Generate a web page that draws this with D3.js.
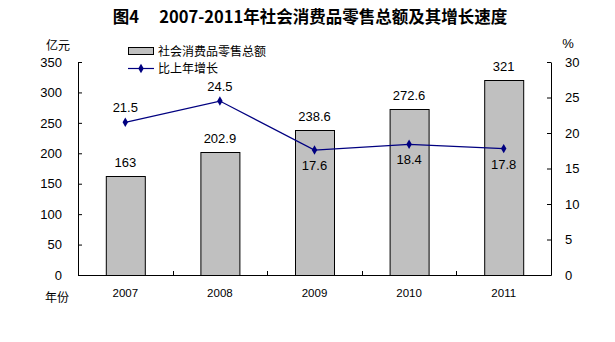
<!DOCTYPE html>
<html>
<head>
<meta charset="utf-8">
<script src="https://cdn.jsdelivr.net/npm/d3@7/dist/d3.min.js"></script>
<style>
  html, body { margin: 0; padding: 0; background: #fff; }
  svg { display: block; }
  text { font-family: "Liberation Sans", Arial, "Noto Sans CJK SC", sans-serif; fill: #000; }
  .cjk { font-family: "Noto Sans CJK SC", "Liberation Sans", sans-serif; }
</style>
</head>
<body>
<script>
// Retail sales of consumer goods and growth rate, 2007-2011
const years = ["2007", "2008", "2009", "2010", "2011"];
const salesValues = [163, 202.9, 238.6, 272.6, 321];
const growthValues = [21.5, 24.5, 17.6, 18.4, 17.8];
const leftTicks = [0, 50, 100, 150, 200, 250, 300, 350];
const rightTicks = [0, 5, 10, 15, 20, 25, 30];
// label placement for growth values: above (-1) or below (+1) the point
const growthLabelSide = [-1, -1, 1, 1, 1];

const W = 615, H = 342;
const margin = { left: 78, right: 64, top: 62, bottom: 67 };
const plotW = W - margin.left - margin.right;
const plotH = H - margin.top - margin.bottom;

const svg = d3.select("body").append("svg").attr("width", W).attr("height", H);

svg.append("text")
  .attr("x", 310).attr("y", 23)
  .attr("text-anchor", "middle")
  .attr("class", "cjk")
  .style("font-size", "16.5px").style("font-weight", "bold")
  .text("图4\u3000 2007-2011年社会消费品零售总额及其增长速度");

const g = svg.append("g").attr("transform", `translate(${margin.left},${margin.top})`);

const x = d3.scaleBand().domain(years).range([0, plotW]).paddingInner(0).paddingOuter(0);
const yL = d3.scaleLinear().domain([0, 350]).range([plotH, 0]);
const yR = d3.scaleLinear().domain([0, 30]).range([plotH, 0]);

const barW = 39;

// bars
g.selectAll("rect.bar").data(salesValues).join("rect")
  .attr("class", "bar")
  .attr("x", (d, i) => x(years[i]) + x.bandwidth() / 2 - barW / 2 + 0.5)
  .attr("y", d => Math.round(yL(d)) + 0.5)
  .attr("width", barW)
  .attr("height", d => plotH - Math.round(yL(d)))
  .attr("fill", "#c0c0c0").attr("stroke", "#000").attr("stroke-width", 1);

// bar value labels
g.selectAll("text.barlab").data(salesValues).join("text")
  .attr("class", "barlab")
  .attr("x", (d, i) => x(years[i]) + x.bandwidth() / 2)
  .attr("y", d => yL(d) - 9)
  .attr("text-anchor", "middle")
  .style("font-size", "13px")
  .text(d => d);

// left axis
const axL = g.append("g").call(d3.axisLeft(yL).tickValues(leftTicks).tickSizeInner(-4).tickSizeOuter(0).tickPadding(16));
axL.select(".domain").attr("stroke", "#000");
axL.selectAll("text").style("font-size", "13px").style("font-family", "Liberation Sans, Arial, sans-serif");

// right axis
const axR = g.append("g").attr("transform", `translate(${plotW},0)`)
  .call(d3.axisRight(yR).tickValues(rightTicks).tickSizeInner(-4).tickSizeOuter(0).tickPadding(14));
axR.select(".domain").attr("stroke", "#000");
axR.selectAll("text").attr("text-anchor", "start").style("font-size", "13px").style("font-family", "Liberation Sans, Arial, sans-serif");

// bottom axis with category separators
const axB = g.append("g").attr("transform", `translate(0,${plotH})`)
  .call(d3.axisBottom(x).tickSize(0).tickPadding(14));
axB.select(".domain").attr("stroke", "#000");
axB.selectAll("text").style("font-size", "11.5px").style("font-family", "Liberation Sans, Arial, sans-serif");
g.selectAll("line.sep").data(years.slice(1)).join("line")
  .attr("class", "sep")
  .attr("x1", d => Math.round(x(d)) + 0.5).attr("x2", d => Math.round(x(d)) + 0.5)
  .attr("y1", plotH).attr("y2", plotH - 4)
  .attr("stroke", "#000");

// growth line
const lineGen = d3.line()
  .x((d, i) => x(years[i]) + x.bandwidth() / 2)
  .y(d => yR(d));
g.append("path").datum(growthValues)
  .attr("d", lineGen)
  .attr("fill", "none").attr("stroke", "#000080").attr("stroke-width", 1.2);

const diamond = d3.symbol().type(d3.symbolDiamond).size(26);
g.selectAll("path.pt").data(growthValues).join("path")
  .attr("class", "pt")
  .attr("d", diamond)
  .attr("transform", (d, i) => `translate(${x(years[i]) + x.bandwidth() / 2},${yR(d)})`)
  .attr("fill", "#000080");

g.selectAll("text.glab").data(growthValues).join("text")
  .attr("class", "glab")
  .attr("x", (d, i) => x(years[i]) + x.bandwidth() / 2)
  .attr("y", (d, i) => growthLabelSide[i] < 0 ? yR(d) - 10 : yR(d) + 20)
  .attr("text-anchor", "middle")
  .style("font-size", "13px")
  .text(d => d);

// axis unit titles
svg.append("text").attr("class", "cjk").attr("x", 58).attr("y", 50)
  .attr("text-anchor", "middle").style("font-size", "12px").text("亿元");
svg.append("text").attr("x", 568).attr("y", 48)
  .attr("text-anchor", "middle").style("font-size", "13px").text("%");
svg.append("text").attr("class", "cjk").attr("x", 57).attr("y", 302)
  .attr("text-anchor", "middle").style("font-size", "12px").text("年份");

// legend
const lg = svg.append("g");
lg.append("rect").attr("x", 128.5).attr("y", 47.5).attr("width", 25).attr("height", 7)
  .attr("fill", "#c0c0c0").attr("stroke", "#000");
lg.append("text").attr("class", "cjk").attr("x", 158).attr("y", 56).style("font-size", "12px").text("社会消费品零售总额");
lg.append("line").attr("x1", 128).attr("x2", 154).attr("y1", 68.5).attr("y2", 68.5)
  .attr("stroke", "#000080").attr("stroke-width", 1.2);
lg.append("path").attr("d", diamond).attr("transform", "translate(141,68.5)").attr("fill", "#000080");
lg.append("text").attr("class", "cjk").attr("x", 158).attr("y", 73).style("font-size", "12px").text("比上年增长");
</script>
</body>
</html>
